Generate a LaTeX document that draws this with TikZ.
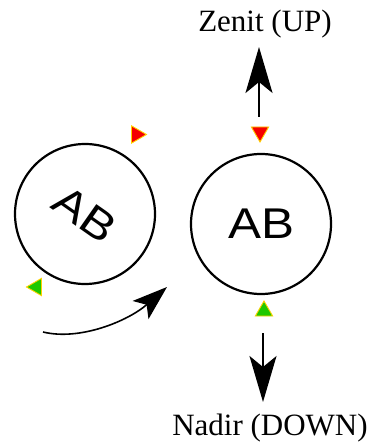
\documentclass[tikz,border=0pt]{standalone}
\usepackage{fontspec}
\setmainfont{Liberation Serif}
\newfontfamily\absans{Liberation Sans}
\usetikzlibrary{arrows.meta,shapes.geometric}
\definecolor{markeredge}{RGB}{255,210,0}
\definecolor{markred}{RGB}{245,0,0}
\definecolor{markgreen}{RGB}{30,200,0}
\newcommand{\wideab}{\scalebox{1.15}[1]{AB}}
\begin{document}
\begin{tikzpicture}[x=1pt,y=-1pt,
  ring/.style={circle,draw,line width=2.2pt,minimum size=140pt,inner sep=0pt,
    font=\absans\fontsize{43}{43}\selectfont},
  marker/.style={regular polygon,regular polygon sides=3,minimum size=20pt,
    inner sep=0pt,draw=markeredge,line width=0.9pt},
  caption/.style={font=\fontsize{31}{31}\selectfont,anchor=base,inner sep=0pt},
  bigarrow/.style={line width=2.2pt,-{Stealth[length=46pt,width=27pt,inset=11pt]}},
  turnarrow/.style={line width=1.6pt,-{Stealth[length=35pt,width=24pt,inset=8pt]}}
]
\useasboundingbox (0,0) rectangle (375,443);

% the two discs, the left one turned
\node[ring,rotate=-35] (left) at (85,214) {\wideab};
\node[ring] (right) at (261,224) {\wideab};

% orientation markers
\node[marker,fill=markred,shape border rotate=180] (rtop) at (260,132) {};
\node[marker,fill=markgreen] (rbot) at (264,311) {};
\node[marker,fill=markred,shape border rotate=-90] (ltop) at (136.5,134.5) {};
\node[marker,fill=markgreen,shape border rotate=90] (lbot) at (36.5,287) {};

% captions
\node[caption] (zenit) at (265,32) {Zenit (UP)};
\node[caption] (nadir) at (270,435) {Nadir (DOWN)};

% direction arrows
\coordinate (upfrom) at (259,117);
\coordinate (upto) at (259,47);
\coordinate (downfrom) at (263,333);
\coordinate (downto) at (263,402);
\draw[bigarrow] (upfrom) -- (upto);
\draw[bigarrow] (downfrom) -- (downto);

% rotation arrow
\coordinate (turnfrom) at (43,332);
\coordinate (turnto) at (167,287);
\draw[turnarrow] (turnfrom) .. controls (80,341) and (128,321) .. (turnto);
\end{tikzpicture}
\end{document}
